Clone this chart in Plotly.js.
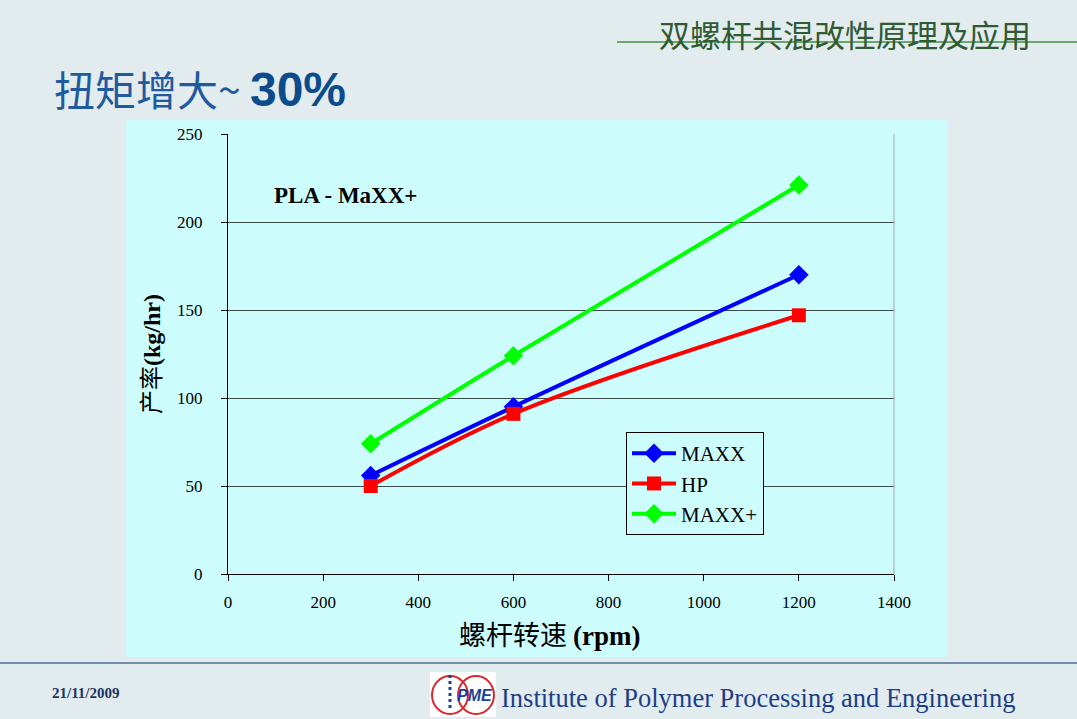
<!DOCTYPE html>
<html>
<head>
<meta charset="utf-8">
<script src="https://cdn.plot.ly/plotly-3.0.1.min.js"></script>
<style>
  html, body { margin: 0; padding: 0; background: #e2ebee; }
  #myDiv { width: 1077px; height: 719px; }
</style>
</head>
<body>
<div id="myDiv"></div>
<script>
// screw speed (rpm) and throughput (kg/hr)
var speeds = [300, 600, 1200];
var maxx = [56, 95, 170];
var hp = [50, 91, 147];
var maxxPlus = [74, 124, 221];

var xTicks = [0, 200, 400, 600, 800, 1000, 1200, 1400];
var yTicks = [0, 50, 100, 150, 200, 250];

var serif = 'Liberation Serif, Times New Roman, serif';
var cjk = 'Noto Sans CJK SC, sans-serif';
var panel = '#ccfcfc';

// plot area in pixels: x 228..894, y 134..574
function px(x) { return (x - 228) / 666; }
function py(y) { return (574 - y) / 440; }

function series(name, ys, color, symbol, size) {
    return {
        type: 'scatter',
        mode: 'lines+markers',
        x: speeds,
        y: ys,
        name: name,
        line: { color: color, width: 4, shape: 'spline' },
        marker: { color: color, symbol: symbol, size: size }
    };
}

var data = [
    series('MAXX', maxx, '#0000ff', 'diamond', 15),
    series('HP', hp, '#ff0000', 'square', 14),
    series('MAXX+', maxxPlus, '#00ff00', 'diamond', 15)
];

var layout = {
    width: 1077,
    height: 719,
    margin: { l: 228, r: 183, t: 134, b: 145 },
    paper_bgcolor: '#e2ebee',
    plot_bgcolor: panel,
    showlegend: true,
    legend: {
        x: px(626), y: py(432), xanchor: 'left', yanchor: 'top',
        bgcolor: panel, bordercolor: '#000', borderwidth: 1,
        font: { family: serif, size: 21, color: '#000' },
        itemwidth: 44,
        tracegroupgap: 0
    },
    xaxis: {
        range: [0, 1400],
        tickvals: xTicks,
        ticks: 'outside', ticklen: 6, tickcolor: '#000',
        showline: true, linecolor: '#000', linewidth: 1,
        showgrid: false, zeroline: false,
        ticklabelstandoff: 7,
        tickfont: { family: serif, size: 17, color: '#000' },
        fixedrange: true
    },
    yaxis: {
        range: [0, 250],
        tickvals: yTicks,
        ticks: 'outside', ticklen: 6, tickcolor: '#000',
        showline: true, linecolor: '#000', linewidth: 1,
        showgrid: true, gridcolor: '#3a4a4a', gridwidth: 1,
        zeroline: false,
        ticklabelstandoff: 15,
        tickfont: { family: serif, size: 17, color: '#000' },
        fixedrange: true
    },
    shapes: [
        // chart panel
        { type: 'rect', xref: 'paper', yref: 'paper', layer: 'below',
          x0: px(126), x1: px(947), y0: py(657), y1: py(120),
          fillcolor: panel, line: { width: 0 } },
        // right edge of plot area
        { type: 'line', xref: 'paper', yref: 'paper',
          x0: 1, x1: 1, y0: 0, y1: 1, line: { color: '#9aa8a8', width: 1 } },
        // header rule
        { type: 'line', xref: 'paper', yref: 'paper',
          x0: px(617), x1: px(1077), y0: py(42), y1: py(42),
          line: { color: '#3f8f3f', width: 1.5 } },
        // footer rule
        { type: 'line', xref: 'paper', yref: 'paper',
          x0: px(0), x1: px(1077), y0: py(663), y1: py(663),
          line: { color: '#6f8fae', width: 2 } },
        // logo
        { type: 'rect', xref: 'paper', yref: 'paper',
          x0: px(430), x1: px(496), y0: py(717), y1: py(672),
          fillcolor: '#ffffff', line: { width: 0 } },
        { type: 'circle', xref: 'paper', yref: 'paper',
          x0: px(432), x1: px(468), y0: py(714), y1: py(676),
          line: { color: '#d8262b', width: 2 } },
        { type: 'circle', xref: 'paper', yref: 'paper',
          x0: px(458), x1: px(494), y0: py(714), y1: py(676),
          line: { color: '#d8262b', width: 2 } },
        { type: 'line', xref: 'paper', yref: 'paper',
          x0: px(450), x1: px(450), y0: py(708), y1: py(674),
          line: { color: '#1a3f9a', width: 3, dash: 'dot' } }
    ],
    annotations: [
        { xref: 'paper', yref: 'paper', x: px(845), y: py(34),
          xanchor: 'center', yanchor: 'middle', showarrow: false,
          text: '双螺杆共混改性原理及应用',
          font: { family: cjk, size: 31, color: '#2f5a32' } },
        { xref: 'paper', yref: 'paper', x: px(52), y: py(88),
          xanchor: 'left', yanchor: 'middle', showarrow: false,
          text: '扭矩增大~ <span style="font-family:Liberation Sans, Arial, sans-serif;font-weight:bold;font-size:48px;color:#0d4c8c">30%</span>',
          font: { family: cjk, size: 41, color: '#1f5a9e' } },
        { xref: 'paper', yref: 'paper', x: px(272), y: py(195),
          xanchor: 'left', yanchor: 'middle', showarrow: false,
          text: '<b>PLA - MaXX+</b>',
          font: { family: serif, size: 23, color: '#000' } },
        { xref: 'paper', yref: 'paper', x: px(550), y: py(633),
          xanchor: 'center', yanchor: 'middle', showarrow: false,
          text: '螺杆转速 <span style="font-family:Liberation Serif, serif;font-weight:bold;font-size:27px">(rpm)</span>',
          font: { family: cjk, size: 27, color: '#000' } },
        { xref: 'paper', yref: 'paper', x: px(149), y: 0.5,
          xanchor: 'center', yanchor: 'middle', showarrow: false, textangle: -90,
          text: '产率<span style="font-family:Liberation Serif, serif;font-weight:bold;font-size:24px">(kg/hr)</span>',
          font: { family: cjk, size: 24, color: '#000' } },
        { xref: 'paper', yref: 'paper', x: px(50), y: py(693),
          xanchor: 'left', yanchor: 'middle', showarrow: false,
          text: '<b>21/11/2009</b>',
          font: { family: serif, size: 15, color: '#1a3566' } },
        { xref: 'paper', yref: 'paper', x: px(475), y: py(695),
          xanchor: 'center', yanchor: 'middle', showarrow: false,
          text: '<b><i>PME</i></b>',
          font: { family: 'Liberation Sans, Arial, sans-serif', size: 16, color: '#1a3f9a' } },
        { xref: 'paper', yref: 'paper', x: px(499), y: py(698),
          xanchor: 'left', yanchor: 'middle', showarrow: false,
          text: 'Institute of Polymer Processing and Engineering',
          font: { family: serif, size: 26.5, color: '#1b3f86' } }
    ]
};

Plotly.newPlot('myDiv', data, layout, { displayModeBar: false, staticPlot: true });
</script>
</body>
</html>
